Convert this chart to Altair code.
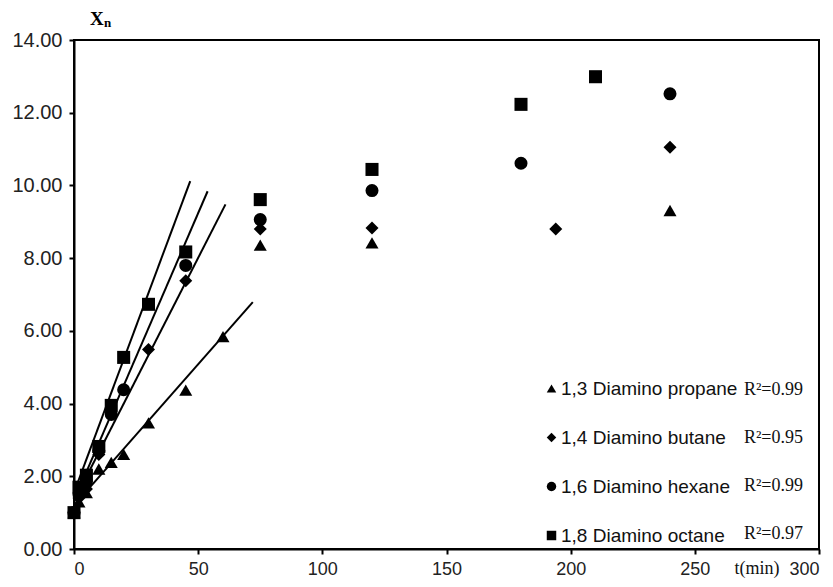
import altair as alt
import pandas as pd

# ---- data ----
series_names = ["1,3 Diamino propane", "1,4 Diamino butane", "1,6 Diamino hexane", "1,8 Diamino octane"]
r2_labels = ["R²=0.99", "R²=0.95", "R²=0.99", "R²=0.97"]
shapes = ["triangle-up", "diamond", "circle", "square"]

t_propane = [0, 2, 5, 10, 15, 20, 30, 45, 60, 75, 120, 240]
x_propane = [1.0, 1.3, 1.55, 2.2, 2.38, 2.6, 3.47, 4.37, 5.84, 8.36, 8.42, 9.31]

t_butane = [0, 2, 5, 10, 30, 45, 75, 120, 194, 240]
x_butane = [1.0, 1.4, 1.65, 2.6, 5.49, 7.38, 8.8, 8.83, 8.8, 11.05]

t_hexane = [0, 2, 5, 10, 15, 20, 45, 75, 120, 180, 240]
x_hexane = [1.0, 1.5, 1.85, 2.7, 3.7, 4.38, 7.8, 9.06, 9.86, 10.61, 12.52]

t_octane = [0, 2, 5, 10, 15, 20, 30, 45, 75, 120, 180, 210]
x_octane = [1.0, 1.7, 2.03, 2.82, 3.95, 5.27, 6.73, 8.17, 9.61, 10.44, 12.23, 12.99]

# fitted initial-rate lines (start and end), same order as series_names
line_t_start = [0, 0, 0, 0]
line_y_start = [1.2, 1.32, 1.33, 1.55]
line_t_end = [72.0, 61.0, 53.8, 46.8]
line_y_end = [6.79, 9.48, 9.84, 10.12]

x_ticks = [0, 50, 100, 150, 200, 250, 300]
y_ticks = [0, 2, 4, 6, 8, 10, 12, 14]

# ---- tables ----
rows = []
for name, ts, xs in zip(series_names, [t_propane, t_butane, t_hexane, t_octane],
                        [x_propane, x_butane, x_hexane, x_octane]):
    for t, v in zip(ts, xs):
        rows.append({"series": name, "t": t, "xn": v})
points_df = pd.DataFrame(rows)

lrows = []
for name, t0, y0, t1, y1 in zip(series_names, line_t_start, line_y_start, line_t_end, line_y_end):
    lrows.append({"series": name, "t": t0, "xn": y0})
    lrows.append({"series": name, "t": t1, "xn": y1})
lines_df = pd.DataFrame(lrows)

W, H = 745, 509

x_enc = alt.X("t:Q", scale=alt.Scale(domain=[0, 300], nice=False),
              axis=alt.Axis(values=x_ticks, format="d", title="t(min)",
                            titleFont="Liberation Serif", titleFontSize=18, titleFontWeight="normal",
                            titleColor="#111", titleAnchor="start", titleAlign="left",
                            titleBaseline="alphabetic", titleX=660, titleY=24,
                            labelPadding=6, labelFontSize=18))
y_enc = alt.Y("xn:Q", scale=alt.Scale(domain=[0, 14], nice=False),
              axis=alt.Axis(values=y_ticks, format=".2f", title=None, labelPadding=7,
                            labelFontSize=20))

lines = alt.Chart(lines_df).mark_line(color="black", strokeWidth=2).encode(
    x=x_enc, y=y_enc, detail="series:N")

pts = alt.Chart(points_df).mark_point(filled=True, opacity=1, size=170, color="black").encode(
    x=x_enc, y=y_enc,
    shape=alt.Shape("series:N", sort=series_names,
                    scale=alt.Scale(domain=series_names, range=shapes),
                    legend=alt.Legend(title=None, orient="none", legendX=468, legendY=339,
                                      direction="vertical", symbolSize=90,
                                      symbolFillColor="black", symbolStrokeColor="black",
                                      symbolStrokeWidth=0, labelFont="Liberation Sans",
                                      labelFontSize=19, labelColor="#111", labelOffset=0,
                                      rowPadding=29, padding=0, labelLimit=400)))

layers = [lines, pts]

# R² annotations beside legend rows
for i, lab in enumerate(r2_labels):
    layers.append(
        alt.Chart(pd.DataFrame({"lab": [lab]})).mark_text(
            font="Liberation Serif", fontSize=18, color="#111", align="right", baseline="middle"
        ).encode(text="lab:N", x=alt.value(729), y=alt.value(350 + i * 48))
    )

# Y axis title X with subscript n
layers.append(alt.Chart(pd.DataFrame({"s": ["X"]})).mark_text(
    font="Liberation Serif", fontSize=19, fontWeight="bold", color="black",
    align="left", baseline="alphabetic").encode(text="s:N", x=alt.value(16), y=alt.value(-15)))
layers.append(alt.Chart(pd.DataFrame({"s": ["n"]})).mark_text(
    font="Liberation Serif", fontSize=13, fontWeight="bold", color="black",
    align="left", baseline="alphabetic").encode(text="s:N", x=alt.value(30), y=alt.value(-13)))

chart = alt.layer(*layers).properties(
    width=W, height=H,
    autosize=alt.AutoSizeParams(type="none"),
    padding={"left": 74, "top": 40, "right": 14, "bottom": 38},
    background="white",
).configure_view(stroke="black", strokeWidth=2).configure_axis(
    grid=False, domainColor="black", domainWidth=2, tickColor="black", tickWidth=2,
    tickSize=5, labelFont="Liberation Sans", labelColor="#222",
)

chart.save("out.html", embed_options={"renderer": "svg", "actions": False})
